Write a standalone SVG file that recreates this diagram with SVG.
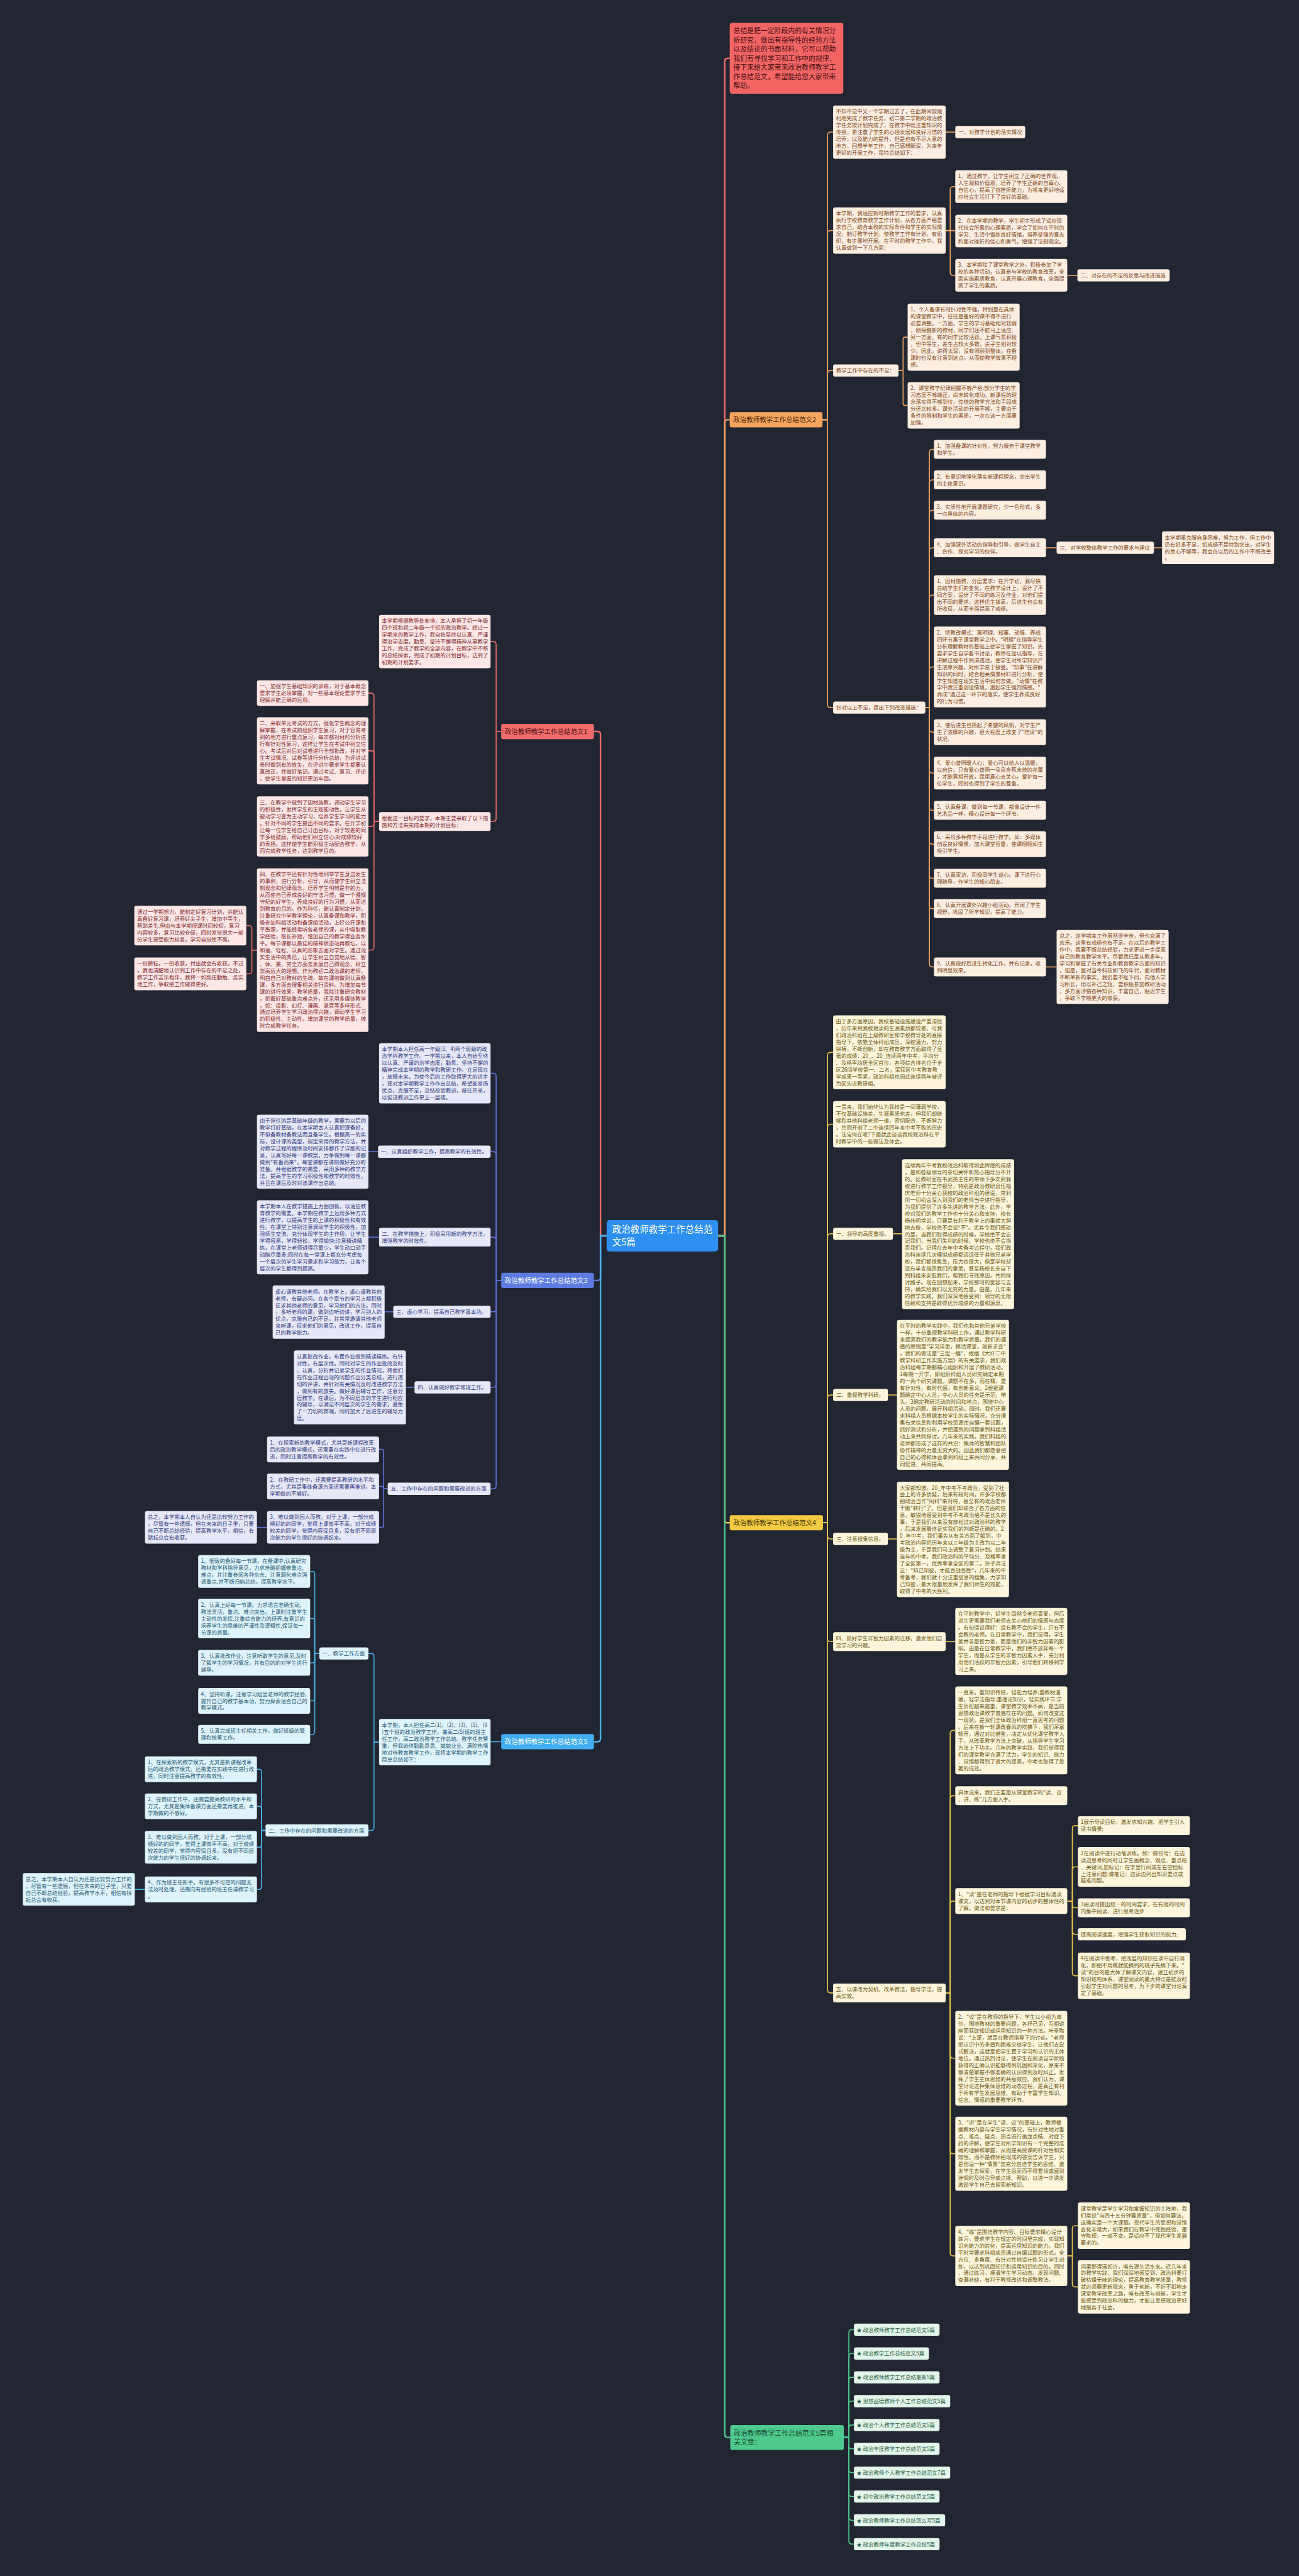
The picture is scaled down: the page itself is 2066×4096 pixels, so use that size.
<svg xmlns="http://www.w3.org/2000/svg" width="2066" height="4096" viewBox="0 0 2066 4096">
<style>
text{font-family:"Noto Sans CJK SC","Noto Sans",sans-serif;font-size:10.5px}
.c1>rect{fill:#fde6e6}.c1>text{fill:#80292a}
.c2>rect{fill:#fdeee2}.c2>text{fill:#7c4416}
.c3>rect{fill:#e6e8f8}.c3>text{fill:#2f387d}
.c4>rect{fill:#fdf6dc}.c4>text{fill:#6a5513}
.c5>rect{fill:#def3fb}.c5>text{fill:#1e5674}
.c6>rect{fill:#e3f6eb}.c6>text{fill:#1f5a3b}
.k>text{font-size:13px}
.k1>rect{fill:#f26a6a}.k1>text{fill:#4a1212}
.k2>rect{fill:#f5a55e}.k2>text{fill:#4d2508}
.k3>rect{fill:#5d7be0}.k3>text{fill:#ffffff}
.k4>rect{fill:#f4ca42}.k4>text{fill:#4a3a05}
.k5>rect{fill:#40aef0}.k5>text{fill:#ffffff}
.k6>rect{fill:#4fca8f}.k6>text{fill:#1b4a31}
#links path{fill:none;stroke-width:2}
.l1{stroke:#f06b6b}.l2{stroke:#f2a561}.l3{stroke:#5d73dc}.l4{stroke:#ebc64c}.l5{stroke:#49b3e6}.l6{stroke:#4ec98e}
#links path.m{stroke-width:3}
</style>
<rect x="0" y="0" width="2066" height="4096" fill="#222632"/>
<g transform="scale(0.806)">
<g id="links">
<path class="l1 m" d="M1417 2438H1430V121Q1430 115 1436 115H1440"/>
<path class="l2 m" d="M1417 2438H1430V834Q1430 828 1436 828H1440"/>
<path class="l4 m" d="M1417 2438H1430V2998Q1430 3004 1436 3004H1440"/>
<path class="l6 m" d="M1417 2438H1430V4802.5Q1430 4808.5 1436 4808.5H1441"/>
<path class="l1 m" d="M1197 2438H1185V1449Q1185 1443 1179 1443H1172"/>
<path class="l3 m" d="M1197 2438H1185V2520Q1185 2526 1179 2526H1172"/>
<path class="l5 m" d="M1197 2438H1185V3430Q1185 3436 1179 3436H1172"/>
<path class="l2" d="M1623 828H1633V266.6Q1633 260.6 1639 260.6H1644"/>
<path class="l2" d="M1623 828H1633V460.8Q1633 454.8 1639 454.8H1644"/>
<path class="l2" d="M1623 828H1633V737Q1633 731 1639 731H1644"/>
<path class="l2" d="M1623 828H1633V1390Q1633 1396 1639 1396H1644"/>
<path class="l2" d="M1866 260.6H1885"/>
<path class="l2" d="M1866 454.8H1875V374.2Q1875 368.2 1881 368.2H1885"/>
<path class="l2" d="M1866 455H1885"/>
<path class="l2" d="M1866 454.8H1875V537.2Q1875 543.2 1881 543.2H1885"/>
<path class="l2" d="M2106 543.2H2126"/>
<path class="l2" d="M1773 731H1782V669.2Q1782 665.2 1786 665.2H1791"/>
<path class="l2" d="M1773 731H1782V795.8Q1782 799.8 1786 799.8H1791"/>
<path class="l2" d="M1826 1396H1834V892.6Q1834 886.6 1840 886.6H1843"/>
<path class="l2" d="M1826 1396H1834V952.6Q1834 946.6 1840 946.6H1843"/>
<path class="l2" d="M1826 1396H1834V1012.6Q1834 1006.6 1840 1006.6H1843"/>
<path class="l2" d="M1826 1396H1834V1086.6Q1834 1080.6 1840 1080.6H1843"/>
<path class="l2" d="M1826 1396H1834V1180Q1834 1174 1840 1174H1843"/>
<path class="l2" d="M1826 1396H1834V1321.8Q1834 1315.8 1840 1315.8H1843"/>
<path class="l2" d="M1826 1396H1834V1438.4Q1834 1444.4 1840 1444.4H1843"/>
<path class="l2" d="M1826 1396H1834V1519.2Q1834 1525.2 1840 1525.2H1843"/>
<path class="l2" d="M1826 1396H1834V1592.6Q1834 1598.6 1840 1598.6H1843"/>
<path class="l2" d="M1826 1396H1834V1659.4Q1834 1665.4 1840 1665.4H1843"/>
<path class="l2" d="M1826 1396H1834V1726.6Q1834 1732.6 1840 1732.6H1843"/>
<path class="l2" d="M1826 1396H1834V1786.6Q1834 1792.6 1840 1792.6H1843"/>
<path class="l2" d="M1826 1396H1834V1901.6Q1834 1907.6 1840 1907.6H1843"/>
<path class="l2" d="M2064 1080.6H2085"/>
<path class="l2" d="M2277 1080.6H2293"/>
<path class="l2" d="M2064 1907.6H2085"/>
<path class="l4" d="M1624 3004H1633V2082Q1633 2076 1639 2076H1644"/>
<path class="l4" d="M1624 3004H1633V2223.8Q1633 2217.8 1639 2217.8H1644"/>
<path class="l4" d="M1624 3004H1633V2440Q1633 2434 1639 2434H1644"/>
<path class="l4" d="M1624 3004H1633V2758Q1633 2752 1639 2752H1644"/>
<path class="l4" d="M1624 3004H1633V3030Q1633 3036 1639 3036H1644"/>
<path class="l4" d="M1624 3004H1633V3232.6Q1633 3238.6 1639 3238.6H1644"/>
<path class="l4" d="M1624 3004H1633V3925.6Q1633 3931.6 1639 3931.6H1644"/>
<path class="l4" d="M1762 2434H1780"/>
<path class="l4" d="M1752 2752H1770"/>
<path class="l4" d="M1752 3036H1770"/>
<path class="l4" d="M1866 3238.6H1885"/>
<path class="l4" d="M1866 3931.6H1875V3419.6Q1875 3413.6 1881 3413.6H1885"/>
<path class="l4" d="M1866 3931.6H1875V3548.6Q1875 3542.6 1881 3542.6H1885"/>
<path class="l4" d="M1866 3931.6H1875V3756.4Q1875 3750.4 1881 3750.4H1885"/>
<path class="l4" d="M1866 3931.6H1875V4054.4Q1875 4060.4 1881 4060.4H1885"/>
<path class="l4" d="M1866 3931.6H1875V4243Q1875 4249 1881 4249H1885"/>
<path class="l4" d="M1866 3931.6H1875V4444.4Q1875 4450.4 1881 4450.4H1885"/>
<path class="l4" d="M2106 3750.4H2116V3607.6Q2116 3601.6 2122 3601.6H2127"/>
<path class="l4" d="M2106 3750.4H2116V3689Q2116 3683 2122 3683H2127"/>
<path class="l4" d="M2106 3750.4H2116V3757.6Q2116 3763.6 2122 3763.6H2127"/>
<path class="l4" d="M2106 3750.4H2116V3810Q2116 3816 2122 3816H2127"/>
<path class="l4" d="M2106 3750.4H2116V3891.8Q2116 3897.8 2122 3897.8H2127"/>
<path class="l4" d="M2106 4450.4H2116V4396.8Q2116 4390.8 2122 4390.8H2127"/>
<path class="l4" d="M2106 4450.4H2116V4505.6Q2116 4511.6 2122 4511.6H2127"/>
<path class="l6" d="M1665 4808.5H1675V4602Q1675 4596 1681 4596H1685"/>
<path class="l6" d="M1665 4808.5H1675V4649Q1675 4643 1681 4643H1685"/>
<path class="l6" d="M1665 4808.5H1675V4696Q1675 4690 1681 4690H1685"/>
<path class="l6" d="M1665 4808.5H1675V4743Q1675 4737 1681 4737H1685"/>
<path class="l6" d="M1665 4808.5H1675V4790Q1675 4784 1681 4784H1685"/>
<path class="l6" d="M1665 4808.5H1675V4825Q1675 4831 1681 4831H1685"/>
<path class="l6" d="M1665 4808.5H1675V4872Q1675 4878 1681 4878H1685"/>
<path class="l6" d="M1665 4808.5H1675V4919Q1675 4925 1681 4925H1685"/>
<path class="l6" d="M1665 4808.5H1675V4966Q1675 4972 1681 4972H1685"/>
<path class="l6" d="M1665 4808.5H1675V5013Q1675 5019 1681 5019H1685"/>
<path class="l1" d="M989 1443H979V1271.6Q979 1265.6 973 1265.6H968"/>
<path class="l1" d="M989 1443H979V1614.6Q979 1620.6 973 1620.6H968"/>
<path class="l1" d="M748 1620.6H738V1373.4Q738 1367.4 732 1367.4H727"/>
<path class="l1" d="M748 1620.6H738V1487.2Q738 1481.2 732 1481.2H727"/>
<path class="l1" d="M748 1620.6H738V1624.4Q738 1630.4 732 1630.4H727"/>
<path class="l1" d="M748 1620.6H738V1868.4Q738 1874.4 732 1874.4H727"/>
<path class="l1" d="M507 1874.4H497V1832Q497 1826 491 1826H486"/>
<path class="l1" d="M507 1874.4H497V1915.2Q497 1921.2 491 1921.2H486"/>
<path class="l3" d="M989 2526H979V2123.4Q979 2117.4 973 2117.4H968"/>
<path class="l3" d="M989 2526H979V2278Q979 2272 973 2272H968"/>
<path class="l3" d="M989 2526H979V2446.6Q979 2440.6 973 2440.6H968"/>
<path class="l3" d="M989 2526H979V2582Q979 2588 973 2588H968"/>
<path class="l3" d="M989 2526H979V2731Q979 2737 973 2737H968"/>
<path class="l3" d="M989 2526H979V2931Q979 2937 973 2937H968"/>
<path class="l3" d="M746 2272H727"/>
<path class="l3" d="M748 2440.6H727"/>
<path class="l3" d="M776 2588H759"/>
<path class="l3" d="M818 2737H801"/>
<path class="l3" d="M765 2937H757V2863.4Q757 2859.4 753 2859.4H748"/>
<path class="l3" d="M765 2937H757V2936.4Q757 2932.4 753 2932.4H748"/>
<path class="l3" d="M765 2937H757V3009.2Q757 3013.2 753 3013.2H748"/>
<path class="l3" d="M527 3013.2H507"/>
<path class="l5" d="M989 3436H968"/>
<path class="l5" d="M748 3436.8H738V3268Q738 3262 732 3262H727"/>
<path class="l5" d="M748 3436.8H738V3605Q738 3611 732 3611H727"/>
<path class="l5" d="M630 3262H621V3106.2Q621 3100.2 617 3100.2H612"/>
<path class="l5" d="M630 3262H621V3199Q621 3193 617 3193H612"/>
<path class="l5" d="M630 3262H621V3276.4Q621 3280.4 617 3280.4H612"/>
<path class="l5" d="M630 3262H621V3349.4Q621 3355.4 617 3355.4H612"/>
<path class="l5" d="M630 3262H621V3415.6Q621 3421.6 617 3421.6H612"/>
<path class="l5" d="M524 3611H516V3496.4Q516 3490.4 512 3490.4H507"/>
<path class="l5" d="M524 3611H516V3569.4Q516 3563.4 512 3563.4H507"/>
<path class="l5" d="M524 3611H516V3638.2Q516 3644.2 512 3644.2H507"/>
<path class="l5" d="M524 3611H516V3721.4Q516 3727.4 512 3727.4H507"/>
<path class="l5" d="M286 3727.4H266"/>
</g>

<g id="center"><rect x="1197" y="2407" width="220" height="62" rx="6" fill="#2d8ff0"/><text x="1208" y="2432" fill="#ffffff" style="font-size:18px"><tspan x="1208">政治教师教学工作总结范</tspan><tspan x="1208" dy="24">文5篇</tspan></text></g>

<g id="intro"><rect x="1440" y="45" width="224" height="140" rx="5" fill="#f36565"/><text x="1447" y="66" fill="#4a1010" style="font-size:13.5px"><tspan x="1447">总结是把一定阶段内的有关情况分</tspan><tspan x="1447" dy="18">析研究，做出有指导性的经验方法</tspan><tspan x="1447" dy="18">以及结论的书面材料，它可以帮助</tspan><tspan x="1447" dy="18">我们有寻找学习和工作中的规律，</tspan><tspan x="1447" dy="18">接下来给大家带来政治教师教学工</tspan><tspan x="1447" dy="18">作总结范文，希望能给您大家带来</tspan><tspan x="1447" dy="18">帮助。</tspan></text></g>

<g id="b1" class="k k1"><rect x="989" y="1428" width="183" height="30" rx="4"/><text x="996" y="1448">政治教师教学工作总结范文1</text></g>
<g id="b2" class="k k2"><rect x="1440" y="813" width="183" height="30" rx="4"/><text x="1447" y="833">政治教师教学工作总结范文2</text></g>
<g id="b3" class="k k3"><rect x="989" y="2511" width="183" height="30" rx="4"/><text x="996" y="2531">政治教师教学工作总结范文3</text></g>
<g id="b4" class="k k4"><rect x="1440" y="2989" width="184" height="30" rx="4"/><text x="1447" y="3009">政治教师教学工作总结范文4</text></g>
<g id="b5" class="k k5"><rect x="989" y="3421" width="183" height="30" rx="4"/><text x="996" y="3441">政治教师教学工作总结范文5</text></g>
<g id="rel" class="k k6"><rect x="1441" y="4784" width="224" height="49" rx="4"/><text x="1448" y="4804.6" style="font-size:13.5px"><tspan x="1448">政治教师教学工作总结范文5篇相</tspan><tspan x="1448" dy="18">关文章：</tspan></text></g>

<g id="n2a" class="c2"><rect x="1644" y="208" width="222" height="105.2" rx="4"/><text x="1649.5" y="223.6"><tspan x="1649.5">不知不觉中又一个学期过去了，在此期间较顺</tspan><tspan x="1649.5" dy="13.6">利地完成了教学任务，初二第二学期的政治教</tspan><tspan x="1649.5" dy="13.6">学任务按计划完成了，在教学中既注重知识的</tspan><tspan x="1649.5" dy="13.6">传授，更注重了学生的心理发展和良好习惯的</tspan><tspan x="1649.5" dy="13.6">培养，以及能力的提升，但是也有不尽人意的</tspan><tspan x="1649.5" dy="13.6">地方，回想半年工作，自己感想颇深，为来年</tspan><tspan x="1649.5" dy="13.6">更好的开展工作，我特总结如下：</tspan></text></g>
<g id="n2a1" class="c2"><rect x="1885" y="248.6" width="138" height="24" rx="4"/><text x="1891" y="264.6">一、对教学计划的落实情况</text></g>
<g id="n2b" class="c2"><rect x="1644" y="409" width="222" height="91.6" rx="4"/><text x="1649.5" y="424.6"><tspan x="1649.5">本学期，我适应新时期教学工作的要求，认真</tspan><tspan x="1649.5" dy="13.6">执行学校教育教学工作计划，从各方面严格要</tspan><tspan x="1649.5" dy="13.6">求自己，结合本校的实际条件和学生的实际情</tspan><tspan x="1649.5" dy="13.6">况，制订教学计划，使教学工作有计划，有组</tspan><tspan x="1649.5" dy="13.6">织，有步骤地开展。在平时的教学工作中，我</tspan><tspan x="1649.5" dy="13.6">认真做到一下几方面：</tspan></text></g>
<g id="n2b1" class="c2"><rect x="1885" y="336" width="221" height="64.4" rx="4"/><text x="1890.5" y="351.6"><tspan x="1890.5">1、通过教学，让学生树立了正确的世界观、</tspan><tspan x="1890.5" dy="13.6">人生观和价值观，培养了学生正确的自尊心、</tspan><tspan x="1890.5" dy="13.6">自信心，提高了抗挫折能力，为将来更好地适</tspan><tspan x="1890.5" dy="13.6">应社会生活打下了良好的基础。</tspan></text></g>
<g id="n2b2" class="c2"><rect x="1885" y="423.6" width="221" height="64.4" rx="4"/><text x="1890.5" y="439.2"><tspan x="1890.5">2、在本学期的教学，学生初步形成了适应现</tspan><tspan x="1890.5" dy="13.6">代社会所需的心理素质，学会了如何在平时的</tspan><tspan x="1890.5" dy="13.6">学习、生活中锻炼良好情绪，培养坚强的意志</tspan><tspan x="1890.5" dy="13.6">和面对挫折的信心和勇气，增强了法制观念。</tspan></text></g>
<g id="n2b3" class="c2"><rect x="1885" y="511" width="221" height="64.4" rx="4"/><text x="1890.5" y="526.6"><tspan x="1890.5">3、本学期除了课堂教学之外，积极参加了学</tspan><tspan x="1890.5" dy="13.6">校的各种活动，认真参与学校的教育改革，全</tspan><tspan x="1890.5" dy="13.6">面实施素质教育，认真开展心理教育，全面提</tspan><tspan x="1890.5" dy="13.6">高了学生的素质。</tspan></text></g>
<g id="n2b3a" class="c2"><rect x="2126" y="531.2" width="182" height="24" rx="4"/><text x="2132" y="547.2">二、对存在的不足的反思与改进措施</text></g>
<g id="n2c" class="c2"><rect x="1644" y="719" width="129" height="24" rx="4"/><text x="1650" y="735">教学工作中存在的不足：</text></g>
<g id="n2c1" class="c2"><rect x="1791" y="599" width="221" height="132.4" rx="4"/><text x="1796.5" y="614.6"><tspan x="1796.5">1、个人备课有时针对性不强，特别是在具体</tspan><tspan x="1796.5" dy="13.6">的课堂教学中，往往是备好的课不得不进行</tspan><tspan x="1796.5" dy="13.6">必要调整。一方面，学生的学习基础相对较弱</tspan><tspan x="1796.5" dy="13.6">，刚接触新的教材，同学们还不能马上适应;</tspan><tspan x="1796.5" dy="13.6">另一方面，有的同学比较活跃，上课气氛积极</tspan><tspan x="1796.5" dy="13.6">，但中等生，差生占较大多数，尖子生相对较</tspan><tspan x="1796.5" dy="13.6">少。因此，讲得太深，没有照顾到整体，在备</tspan><tspan x="1796.5" dy="13.6">课时也没有注意到这点。从而使教学效果不理</tspan><tspan x="1796.5" dy="13.6">想。</tspan></text></g>
<g id="n2c2" class="c2"><rect x="1791" y="754" width="221" height="91.6" rx="4"/><text x="1796.5" y="769.6"><tspan x="1796.5">2、课堂教学纪律把握不够严格;部分学生的学</tspan><tspan x="1796.5" dy="13.6">习态度不够端正，尚未转化成功。新课程的理</tspan><tspan x="1796.5" dy="13.6">念落实得不够到位，传统的教学方法和手段成</tspan><tspan x="1796.5" dy="13.6">分还比较多。课外活动的开展不够，主要由于</tspan><tspan x="1796.5" dy="13.6">条件的限制和学生的素质，一次在这一方面要</tspan><tspan x="1796.5" dy="13.6">加强。</tspan></text></g>
<g id="n2d" class="c2"><rect x="1644" y="1384" width="182" height="24" rx="4"/><text x="1650" y="1400">针对以上不足，提出下列改进措施：</text></g>
<g id="n2d1" class="c2"><rect x="1843" y="868" width="221" height="37.2" rx="4"/><text x="1848.5" y="883.6"><tspan x="1848.5">1、加强备课的针对性，努力服务于课堂教学</tspan><tspan x="1848.5" dy="13.6">和学生。</tspan></text></g>
<g id="n2d2" class="c2"><rect x="1843" y="928" width="221" height="37.2" rx="4"/><text x="1848.5" y="943.6"><tspan x="1848.5">2、有意识地强化落实新课程理念，突出学生</tspan><tspan x="1848.5" dy="13.6">的主体意识。</tspan></text></g>
<g id="n2d3" class="c2"><rect x="1843" y="988" width="221" height="37.2" rx="4"/><text x="1848.5" y="1003.6"><tspan x="1848.5">3、实质性地开展课题研究，少一色形式，多</tspan><tspan x="1848.5" dy="13.6">一点具体的内容。</tspan></text></g>
<g id="n2d4" class="c2"><rect x="1843" y="1062" width="221" height="37.2" rx="4"/><text x="1848.5" y="1077.6"><tspan x="1848.5">4、加强课外活动的指导和引导，做学生自主</tspan><tspan x="1848.5" dy="13.6">、合作、探究学习的伙伴。</tspan></text></g>
<g id="n2d5" class="c2"><rect x="1843" y="1135" width="221" height="78" rx="4"/><text x="1848.5" y="1150.6"><tspan x="1848.5">1、因材施教，分层要求：在开学初，我尽快</tspan><tspan x="1848.5" dy="13.6">总结学生们的变化，在教学设计上，设计了不</tspan><tspan x="1848.5" dy="13.6">同方案，设计了不同的练习及作业，对他们提</tspan><tspan x="1848.5" dy="13.6">出不同的要求，这样优生拔高，后进生也会有</tspan><tspan x="1848.5" dy="13.6">所收获，从而全面提高了成绩。</tspan></text></g>
<g id="n2d6" class="c2"><rect x="1843" y="1236" width="221" height="159.6" rx="4"/><text x="1848.5" y="1251.6"><tspan x="1848.5">2、把教改模式：寓明理、知事、动情、养成</tspan><tspan x="1848.5" dy="13.6">四环节寓于课堂教学之中。"明理"在指导学生</tspan><tspan x="1848.5" dy="13.6">分析理解教材的基础上使学生掌握了知识。先</tspan><tspan x="1848.5" dy="13.6">要求学生自学看书讨论，教师在加以指导，在</tspan><tspan x="1848.5" dy="13.6">讲解过程中作到清透活，使学生对所学知识产</tspan><tspan x="1848.5" dy="13.6">生浓厚兴趣，对所学易于接受。"知事"在讲解</tspan><tspan x="1848.5" dy="13.6">知识的同时，结合相关情景材料进行分析，使</tspan><tspan x="1848.5" dy="13.6">学生知道在现实生活中如何去做。"动情"在教</tspan><tspan x="1848.5" dy="13.6">学中我注重创设情境，激起学生强烈情感。"</tspan><tspan x="1848.5" dy="13.6">养成"通过这一环节的落实，使学生养成良好</tspan><tspan x="1848.5" dy="13.6">的行为习惯。</tspan></text></g>
<g id="n2d7" class="c2"><rect x="1843" y="1419" width="221" height="50.8" rx="4"/><text x="1848.5" y="1434.6"><tspan x="1848.5">3、使后进生也扬起了希望的风帆，对学生产</tspan><tspan x="1848.5" dy="13.6">生了浓厚的兴趣，很大程度上改变了"陪读"的</tspan><tspan x="1848.5" dy="13.6">状况。</tspan></text></g>
<g id="n2d8" class="c2"><rect x="1843" y="1493" width="221" height="64.4" rx="4"/><text x="1848.5" y="1508.6"><tspan x="1848.5">4、爱心普照暖人心：爱心可以给人以温暖，</tspan><tspan x="1848.5" dy="13.6">以自信，只有爱心普照一朵朵含苞未放的花蕾</tspan><tspan x="1848.5" dy="13.6">，才能竟相开放，我用真心去关心，爱护每一</tspan><tspan x="1848.5" dy="13.6">位学生，同时也得到了学生的尊重。</tspan></text></g>
<g id="n2d9" class="c2"><rect x="1843" y="1580" width="221" height="37.2" rx="4"/><text x="1848.5" y="1595.6"><tspan x="1848.5">5、认真备课，做到每一节课，都像设计一件</tspan><tspan x="1848.5" dy="13.6">艺术品一样，精心设计每一个环节。</tspan></text></g>
<g id="n2d10" class="c2"><rect x="1843" y="1640" width="221" height="50.8" rx="4"/><text x="1848.5" y="1655.6"><tspan x="1848.5">6、采用多种教学手段进行教学。如：多媒体</tspan><tspan x="1848.5" dy="13.6">创设良好情景，加大课堂容量，使课栩栩如生</tspan><tspan x="1848.5" dy="13.6">吸引学生。</tspan></text></g>
<g id="n2d11" class="c2"><rect x="1843" y="1714" width="221" height="37.2" rx="4"/><text x="1848.5" y="1729.6"><tspan x="1848.5">7、认真家访，积极同学生谈心。课下进行心</tspan><tspan x="1848.5" dy="13.6">理疏导，作学生的知心朋友。</tspan></text></g>
<g id="n2d12" class="c2"><rect x="1843" y="1774" width="221" height="37.2" rx="4"/><text x="1848.5" y="1789.6"><tspan x="1848.5">8、认真开展课外兴趣小组活动。开阔了学生</tspan><tspan x="1848.5" dy="13.6">视野，巩固了所学知识，提高了能力。</tspan></text></g>
<g id="n2d13" class="c2"><rect x="1843" y="1889" width="221" height="37.2" rx="4"/><text x="1848.5" y="1904.6"><tspan x="1848.5">9、认真做好后进生转化工作，并有记录，收</tspan><tspan x="1848.5" dy="13.6">到明显效果。</tspan></text></g>
<g id="n2d4a" class="c2"><rect x="2085" y="1068.6" width="192" height="24" rx="4"/><text x="2091" y="1084.6">三、对学校整体教学工作的要求与建议</text></g>
<g id="n2d4b" class="c2"><rect x="2293" y="1048.4" width="221" height="64.4" rx="4"/><text x="2298.5" y="1064"><tspan x="2298.5">本学期虽克服自身困难，努力工作，但工作中</tspan><tspan x="2298.5" dy="13.6">仍有好多不足，如成绩不是特别突出，对学生</tspan><tspan x="2298.5" dy="13.6">的关心不够等，我会在以后的工作中不断改善</tspan><tspan x="2298.5" dy="13.6">。</tspan></text></g>
<g id="n2d13a" class="c2"><rect x="2085" y="1834.6" width="221" height="146" rx="4"/><text x="2090.5" y="1850.2"><tspan x="2090.5">总之，这学期来工作虽然很辛苦，但也充满了</tspan><tspan x="2090.5" dy="13.6">欢乐。这里有成绩也有不足。在以后的教学工</tspan><tspan x="2090.5" dy="13.6">作中，我要不断总结经验，力求更进一步提高</tspan><tspan x="2090.5" dy="13.6">自己的教育教学水平。尽管我已是从教多年，</tspan><tspan x="2090.5" dy="13.6">学习和掌握了有关专业和教育教学方面的知识</tspan><tspan x="2090.5" dy="13.6">，但是，面对当今科技如飞的年代，面对教材</tspan><tspan x="2090.5" dy="13.6">不断革新的事实，我仍要不耻下问，向他人学</tspan><tspan x="2090.5" dy="13.6">习所长，用以补己之短，要积极参加教研活动</tspan><tspan x="2090.5" dy="13.6">，多方面涉猎各种知识，丰富自己，贴近学生</tspan><tspan x="2090.5" dy="13.6">，争取下学期更大的收获。</tspan></text></g>

<g id="n4a" class="c4"><rect x="1644" y="2003" width="222" height="146" rx="4"/><text x="1649.5" y="2018.6"><tspan x="1649.5">由于多方面原因，我校基础设施建设严重滞后</tspan><tspan x="1649.5" dy="13.6">，历年来到我校就读的生源素质都较差，可我</tspan><tspan x="1649.5" dy="13.6">们政治科组在上级教研室和学校教导处的直接</tspan><tspan x="1649.5" dy="13.6">指导下，依靠全体科组成员，深挖潜力，努力</tspan><tspan x="1649.5" dy="13.6">拼搏，不断创新，却在教育教学方面取得了显</tspan><tspan x="1649.5" dy="13.6">著的成绩：20_、20_连续两年中考，平均分</tspan><tspan x="1649.5" dy="13.6">、及格率均居全区首位，各项综合排名位于全</tspan><tspan x="1649.5" dy="13.6">区26间学校第一、二名，荣获区中考教育教</tspan><tspan x="1649.5" dy="13.6">学成果一等奖，政治科组也因此连续两年被评</tspan><tspan x="1649.5" dy="13.6">为区先进教研组。</tspan></text></g>
<g id="n4b" class="c4"><rect x="1644" y="2172" width="222" height="91.6" rx="4"/><text x="1649.5" y="2187.6"><tspan x="1649.5">一贯来，我们始终认为我校是一间薄弱学校，</tspan><tspan x="1649.5" dy="13.6">不仅基础设施差，生源素质也差，但我们却能</tspan><tspan x="1649.5" dy="13.6">够和其他科组老师一道，密切配合，不断努力</tspan><tspan x="1649.5" dy="13.6">，共同开创了二中连续四年来中考不败的历史</tspan><tspan x="1649.5" dy="13.6">。法宝何在呢?下面就此谈谈我校政治科在平</tspan><tspan x="1649.5" dy="13.6">时教学中的一些做法及体会。</tspan></text></g>
<g id="n4c" class="c4"><rect x="1644" y="2422" width="118" height="24" rx="4"/><text x="1650" y="2438">一、领导的高度重视。</text></g>
<g id="n4c1" class="c4"><rect x="1780" y="2287" width="221" height="295.6" rx="4"/><text x="1785.5" y="2302.6"><tspan x="1785.5">连续两年中考我校政治科取得如此辉煌的成绩</tspan><tspan x="1785.5" dy="13.6">，是和各级领导的亲切关怀和热心指导分不开</tspan><tspan x="1785.5" dy="13.6">的。区教研室在韦武扬主任的带领下多次到我</tspan><tspan x="1785.5" dy="13.6">校进行教学工作视导，特别是政治教研员伍福</tspan><tspan x="1785.5" dy="13.6">庆老师十分关心我校的政治科组的建设，常利</tspan><tspan x="1785.5" dy="13.6">用一切机会深入到我们的老师当中进行指导，</tspan><tspan x="1785.5" dy="13.6">为我们提供了许多先进的教学方法。此外，学</tspan><tspan x="1785.5" dy="13.6">校对我们的教学工作也十分关心和支持，校长</tspan><tspan x="1785.5" dy="13.6">杨伟明常说，只要是有利于教学上的事就大胆</tspan><tspan x="1785.5" dy="13.6">地去做，学校绝不会说"不"。尤其令我们感动</tspan><tspan x="1785.5" dy="13.6">的是，当我们取得成绩的时候，学校绝不会忘</tspan><tspan x="1785.5" dy="13.6">记我们，当我们失利的时候，学校也绝不会指</tspan><tspan x="1785.5" dy="13.6">责我们。记得在去年中考备考过程中，我们政</tspan><tspan x="1785.5" dy="13.6">治科连续几次模拟成绩都远远低于其他兄弟学</tspan><tspan x="1785.5" dy="13.6">校，我们都很焦急，压力也很大，但是学校却</tspan><tspan x="1785.5" dy="13.6">没有半言指责我们的意思，甚至杨校长亲自下</tspan><tspan x="1785.5" dy="13.6">到科组来安慰我们，帮我们寻找原因，共同探</tspan><tspan x="1785.5" dy="13.6">讨路子。现在回想起来，学校那时的宽容与支</tspan><tspan x="1785.5" dy="13.6">持，确实给我们以无穷的力量。由是，几年来</tspan><tspan x="1785.5" dy="13.6">的教学实践，我们深深地感受到：领导的无限</tspan><tspan x="1785.5" dy="13.6">信赖和支持是取得优异成绩的力量和源泉。</tspan></text></g>
<g id="n4d" class="c4"><rect x="1644" y="2740" width="108" height="24" rx="4"/><text x="1650" y="2756">二、重视教学科研。</text></g>
<g id="n4d1" class="c4"><rect x="1770" y="2604" width="221" height="295.6" rx="4"/><text x="1775.5" y="2619.6"><tspan x="1775.5">在平时的教学实践中，我们也和其他兄弟学校</tspan><tspan x="1775.5" dy="13.6">一样，十分重视教学科研工作，通过教学科研</tspan><tspan x="1775.5" dy="13.6">来提高我们的教学能力和教学质量。我们的遵</tspan><tspan x="1775.5" dy="13.6">循的原则是"学习洋思，搞活课堂，创新求变"</tspan><tspan x="1775.5" dy="13.6">，我们的做法是"三定一编"，根据《大圩二中</tspan><tspan x="1775.5" dy="13.6">教学科研工作实施方案》的有关要求，我们政</tspan><tspan x="1775.5" dy="13.6">治科组每学期都精心组织和开展了教研活动。</tspan><tspan x="1775.5" dy="13.6">1每期一开学，即组织科组人员研究确定本期</tspan><tspan x="1775.5" dy="13.6">的一两个研究课题。课题不在多，而在精，要</tspan><tspan x="1775.5" dy="13.6">有针对性，有时代感，有创新意义。2根据课</tspan><tspan x="1775.5" dy="13.6">题确定中心人员，中心人员的任务是示范、带</tspan><tspan x="1775.5" dy="13.6">头。3确定教研活动的时间和地点，围绕中心</tspan><tspan x="1775.5" dy="13.6">人员的问题，展开科组活动。同时，我们还要</tspan><tspan x="1775.5" dy="13.6">求科组人员根据本校学生的实际情况，充分搜</tspan><tspan x="1775.5" dy="13.6">集有关信息和利用学校资源库自编一套试题，</tspan><tspan x="1775.5" dy="13.6">抓好测试和分析，并把遇到的问题拿到科组活</tspan><tspan x="1775.5" dy="13.6">动上来共同探讨。几年来的实践，我们科组的</tspan><tspan x="1775.5" dy="13.6">老师都形成了这样的共识：集体的智慧和团队</tspan><tspan x="1775.5" dy="13.6">协作精神的力量无穷大的。因此我们都愿意把</tspan><tspan x="1775.5" dy="13.6">自己的心得和体会拿到科组上来共同分享、共</tspan><tspan x="1775.5" dy="13.6">同促进、共同提高。</tspan></text></g>
<g id="n4e" class="c4"><rect x="1644" y="3024" width="108" height="24" rx="4"/><text x="1650" y="3040">三、注意搜集信息。</text></g>
<g id="n4e1" class="c4"><rect x="1770" y="2923" width="221" height="227.6" rx="4"/><text x="1775.5" y="2938.6"><tspan x="1775.5">大家都知道，20_年中考不考政治，受到了社</tspan><tspan x="1775.5" dy="13.6">会上的许多质疑，后来有段时间，许多学校都</tspan><tspan x="1775.5" dy="13.6">把政治当作"闲科"来对待，甚至有的政治老师</tspan><tspan x="1775.5" dy="13.6">干脆"转行"了。但是我们却综合了各方面的信</tspan><tspan x="1775.5" dy="13.6">息，敏锐地感受到中考不考政治绝不是长久的</tspan><tspan x="1775.5" dy="13.6">事，于是我们从来没有放松过对政治科的教学</tspan><tspan x="1775.5" dy="13.6">，后来发展最终证实我们的判断是正确的。2</tspan><tspan x="1775.5" dy="13.6">0_年中考，我们事先从有关方面了解到，中</tspan><tspan x="1775.5" dy="13.6">考政治内容把历年来以三年级为主改为以二年</tspan><tspan x="1775.5" dy="13.6">级为主，于是我们马上调整了复习计划。结果</tspan><tspan x="1775.5" dy="13.6">当年的中考，我们政治科的平均分、及格率拿</tspan><tspan x="1775.5" dy="13.6">了全区第一，优秀率拿全区的第二。孙子兵法</tspan><tspan x="1775.5" dy="13.6">云："知己知彼，才能百战百胜"，几年来的中</tspan><tspan x="1775.5" dy="13.6">考备考，我们就十分注重信息的搜集，力求知</tspan><tspan x="1775.5" dy="13.6">己知彼，最大限量地发挥了我们师生的效能，</tspan><tspan x="1775.5" dy="13.6">取得了中考的大胜利。</tspan></text></g>
<g id="n4f" class="c4"><rect x="1644" y="3220" width="222" height="37.2" rx="4"/><text x="1649.5" y="3235.6"><tspan x="1649.5">四、抓好学生非智力因素的迁移，激发他们自</tspan><tspan x="1649.5" dy="13.6">觉学习的兴趣。</tspan></text></g>
<g id="n4f1" class="c4"><rect x="1885" y="3172" width="221" height="132.4" rx="4"/><text x="1890.5" y="3187.6"><tspan x="1890.5">在平时教学中，好学生固然令老师喜爱，但后</tspan><tspan x="1890.5" dy="13.6">进生更需要我们老师去关心他们的情感与态度</tspan><tspan x="1890.5" dy="13.6">。有句话说得好：没有教不会的学生，只有不</tspan><tspan x="1890.5" dy="13.6">会教的老师。在日常教学中，我们觉得，学生</tspan><tspan x="1890.5" dy="13.6">差并非是智力差，而是他们的非智力因素的影</tspan><tspan x="1890.5" dy="13.6">响。由是在日常教学中，我们绝不放弃每一个</tspan><tspan x="1890.5" dy="13.6">学生，而是从学生的非智力因素入手，充分利</tspan><tspan x="1890.5" dy="13.6">用他们活跃的非智力因素，引导他们转移到学</tspan><tspan x="1890.5" dy="13.6">习上来。</tspan></text></g>
<g id="n4g" class="c4"><rect x="1644" y="3913" width="222" height="37.2" rx="4"/><text x="1649.5" y="3928.6"><tspan x="1649.5">五、以课改为契机，改革教法，指导学法，提</tspan><tspan x="1649.5" dy="13.6">高实效。</tspan></text></g>
<g id="n4g1" class="c4"><rect x="1885" y="3327" width="221" height="173.2" rx="4"/><text x="1890.5" y="3342.6"><tspan x="1890.5">一直来，重知识传授，轻能力培养;重教材灌</tspan><tspan x="1890.5" dy="13.6">输，轻学法指导;重理论知识，轻实践环节;学</tspan><tspan x="1890.5" dy="13.6">生负担越来越重，课堂教学效率不高，是当前</tspan><tspan x="1890.5" dy="13.6">思想政治课教学普遍存在的问题。如何改变这</tspan><tspan x="1890.5" dy="13.6">一现状，是我们全体政治科组一直思考的问题</tspan><tspan x="1890.5" dy="13.6">。后来在新一轮课改春风的吹拂下，我们茅塞</tspan><tspan x="1890.5" dy="13.6">顿开，通过对比借鉴，决定从优化课堂教学入</tspan><tspan x="1890.5" dy="13.6">手，从改革教学方法上突破，从指导学生学习</tspan><tspan x="1890.5" dy="13.6">方法上下功夫。几年的教学实践，我们觉得我</tspan><tspan x="1890.5" dy="13.6">们的课堂教学充满了活力，学生的知识、能力</tspan><tspan x="1890.5" dy="13.6">、觉悟都得到了很大的提高，中考也取得了显</tspan><tspan x="1890.5" dy="13.6">著的成效。</tspan></text></g>
<g id="n4g2" class="c4"><rect x="1885" y="3524" width="221" height="37.2" rx="4"/><text x="1890.5" y="3539.6"><tspan x="1890.5">具体说来，我们主要是从课堂教学的"读、议</tspan><tspan x="1890.5" dy="13.6">、讲、练"几方面入手。</tspan></text></g>
<g id="n4g3" class="c4"><rect x="1885" y="3725" width="221" height="50.8" rx="4"/><text x="1890.5" y="3740.6"><tspan x="1890.5">1、"读"是在老师的指导下根据学习目标通读</tspan><tspan x="1890.5" dy="13.6">课文，以达到对本节课内容的初步的整体性的</tspan><tspan x="1890.5" dy="13.6">了解。做法和要求是：</tspan></text></g>
<g id="n4g3a" class="c4"><rect x="2127" y="3583" width="221" height="37.2" rx="4"/><text x="2132.5" y="3598.6"><tspan x="2132.5">1展示导读目标，激发求知兴趣、把学生引入</tspan><tspan x="2132.5" dy="13.6">读书情景;</tspan></text></g>
<g id="n4g3b" class="c4"><rect x="2127" y="3644" width="221" height="78" rx="4"/><text x="2132.5" y="3659.6"><tspan x="2132.5">2在阅读中进行动笔训练。如：做符号：在边</tspan><tspan x="2132.5" dy="13.6">读边思考的同时让学生画概念、观点、重点段</tspan><tspan x="2132.5" dy="13.6">、关键词,加标记：在字里行间或左右空档标</tspan><tspan x="2132.5" dy="13.6">上注意问题;做笔记：边读边列出知识要点或</tspan><tspan x="2132.5" dy="13.6">疑难问题。</tspan></text></g>
<g id="n4g3c" class="c4"><rect x="2127" y="3745" width="221" height="37.2" rx="4"/><text x="2132.5" y="3760.6"><tspan x="2132.5">3阅读时提出统一的时间要求，在有限的时间</tspan><tspan x="2132.5" dy="13.6">内集中阅读、进行思考逐步</tspan></text></g>
<g id="n4g3d" class="c4"><rect x="2127" y="3804" width="213" height="24" rx="4"/><text x="2132.5" y="3820">提高阅读速度，增强学生获取知识的能力;</text></g>
<g id="n4g3e" class="c4"><rect x="2127" y="3852" width="221" height="91.6" rx="4"/><text x="2132.5" y="3867.6"><tspan x="2132.5">4在阅读中思考，把浅层的知识在读中自行消</tspan><tspan x="2132.5" dy="13.6">化，即把不用跳就能摘到的桃子先摘下来。"</tspan><tspan x="2132.5" dy="13.6">读"的目的是大体了解课文内容，建立初步的</tspan><tspan x="2132.5" dy="13.6">知识结构体系，课堂阅读的最大特点是能及时</tspan><tspan x="2132.5" dy="13.6">引起学生对问题的思考，为下步的课堂讨论奠</tspan><tspan x="2132.5" dy="13.6">定了基础。</tspan></text></g>
<g id="n4g4" class="c4"><rect x="1885" y="3967" width="221" height="186.8" rx="4"/><text x="1890.5" y="3982.6"><tspan x="1890.5">2、"议"是在教师的指导下，学生以小组为单</tspan><tspan x="1890.5" dy="13.6">位，围绕教材的重要问题，各抒己见，互相讲</tspan><tspan x="1890.5" dy="13.6">座而获取知识或运用知识的一种方法。叶圣陶</tspan><tspan x="1890.5" dy="13.6">说："上课，就是在教师指导下的讨论。"老师</tspan><tspan x="1890.5" dy="13.6">把认识中的矛盾和困难交给学生，让他们去尝</tspan><tspan x="1890.5" dy="13.6">试解决，这就是把学生置于学习和认识的主体</tspan><tspan x="1890.5" dy="13.6">地位。通过热烈讨论，使学生在阅读自学阶段</tspan><tspan x="1890.5" dy="13.6">获得的正确认识能够得到巩固和深化，原来不</tspan><tspan x="1890.5" dy="13.6">够清楚掌握不够准确的认识得到及时纠正。发</tspan><tspan x="1890.5" dy="13.6">挥了学生主体思维的共振效应。我们认为，课</tspan><tspan x="1890.5" dy="13.6">堂讨论这种集体思维的动态过程，是真正有利</tspan><tspan x="1890.5" dy="13.6">于所有学生发展思维、有助于丰富学生知识、</tspan><tspan x="1890.5" dy="13.6">信念、情感的重要教学环节。</tspan></text></g>
<g id="n4g5" class="c4"><rect x="1885" y="4176" width="221" height="146" rx="4"/><text x="1890.5" y="4191.6"><tspan x="1890.5">3、"讲"是在学生"读、议"的基础上，教师根</tspan><tspan x="1890.5" dy="13.6">据教材内容与学生学习情况，有针对性地对重</tspan><tspan x="1890.5" dy="13.6">点、难点、疑点、热点进行画龙点睛、对症下</tspan><tspan x="1890.5" dy="13.6">药的讲解，使学生对所学知识有一个完整的准</tspan><tspan x="1890.5" dy="13.6">确的理解和掌握，从而提高授课的针对性和实</tspan><tspan x="1890.5" dy="13.6">效性。而不是教师把现成的答案告诉学生，只</tspan><tspan x="1890.5" dy="13.6">是创设一种"情景"去充分启迪学生的思维，激</tspan><tspan x="1890.5" dy="13.6">发学生去探索，在学生思索而不得要领或感到</tspan><tspan x="1890.5" dy="13.6">迷惘时及时引导或点拨、帮助，以进一步诱发</tspan><tspan x="1890.5" dy="13.6">激励学生自己去探索新知识。</tspan></text></g>
<g id="n4g6" class="c4"><rect x="1885" y="4391" width="221" height="118.8" rx="4"/><text x="1890.5" y="4406.6"><tspan x="1890.5">4、"练"是围绕教学内容、目标要求精心设计</tspan><tspan x="1890.5" dy="13.6">练习，要求学生在规定的时间里完成，实现知</tspan><tspan x="1890.5" dy="13.6">识向能力的转化，提高运用知识的能力。我们</tspan><tspan x="1890.5" dy="13.6">平时常要求科组成员通过自编试题的形式，全</tspan><tspan x="1890.5" dy="13.6">方位、多角度、有针对性地设计练习让学生训</tspan><tspan x="1890.5" dy="13.6">练，以达到巩固知识和运用知识的目的。同时</tspan><tspan x="1890.5" dy="13.6">，通过练习，摸清学生学习动态，发现问题、</tspan><tspan x="1890.5" dy="13.6">查漏补缺，有利于教师改进和调整教法。</tspan></text></g>
<g id="n4g6a" class="c4"><rect x="2127" y="4345" width="221" height="91.6" rx="4"/><text x="2132.5" y="4360.6"><tspan x="2132.5">课堂教学是学生学习和掌握知识的主阵地，我</tspan><tspan x="2132.5" dy="13.6">们常说"向四十五分钟要质量"，但如何要法，</tspan><tspan x="2132.5" dy="13.6">这确实是一个大课题。现代学生的思想和觉悟</tspan><tspan x="2132.5" dy="13.6">变化非常大，如果我们在教学中死抱经验，墨</tspan><tspan x="2132.5" dy="13.6">守陈规，一成不变，是适应不了现代学生发展</tspan><tspan x="2132.5" dy="13.6">要求的。</tspan></text></g>
<g id="n4g6b" class="c4"><rect x="2127" y="4459" width="221" height="105.2" rx="4"/><text x="2132.5" y="4474.6"><tspan x="2132.5">问渠那得清如许，唯有源头活水来。近几年来</tspan><tspan x="2132.5" dy="13.6">的教学实践，我们深深地感受到：政治科要打</tspan><tspan x="2132.5" dy="13.6">破枯燥无味的理论，提高教育教学质量，教师</tspan><tspan x="2132.5" dy="13.6">就必须要更新观念，勇于创新，不折不扣地走</tspan><tspan x="2132.5" dy="13.6">课堂教学改革之路，唯有改革与创新，学生才</tspan><tspan x="2132.5" dy="13.6">能感受到政治科的魅力，才能让思想政治更好</tspan><tspan x="2132.5" dy="13.6">地服务于社会。</tspan></text></g>

<g id="r1" class="c6"><rect x="1685" y="4584" width="169" height="24" rx="4"/><text x="1690" y="4600">★ 政治教师教学工作总结范文5篇</text></g>
<g id="r2" class="c6"><rect x="1685" y="4631" width="148" height="24" rx="4"/><text x="1690" y="4647">★ 政治教学工作总结范文5篇</text></g>
<g id="r3" class="c6"><rect x="1685" y="4678" width="169" height="24" rx="4"/><text x="1690" y="4694">★ 政治教师教学工作总结最新5篇</text></g>
<g id="r4" class="c6"><rect x="1685" y="4725" width="190" height="24" rx="4"/><text x="1690" y="4741">★ 思想品德教师个人工作总结范文5篇</text></g>
<g id="r5" class="c6"><rect x="1685" y="4772" width="169" height="24" rx="4"/><text x="1690" y="4788">★ 政治个人教学工作总结范文5篇</text></g>
<g id="r6" class="c6"><rect x="1685" y="4819" width="169" height="24" rx="4"/><text x="1690" y="4835">★ 政治年度教学工作总结范文5篇</text></g>
<g id="r7" class="c6"><rect x="1685" y="4866" width="190" height="24" rx="4"/><text x="1690" y="4882">★ 政治教师个人教学工作总结范文7篇</text></g>
<g id="r8" class="c6"><rect x="1685" y="4913" width="169" height="24" rx="4"/><text x="1690" y="4929">★ 初中政治教学工作总结范文5篇</text></g>
<g id="r9" class="c6"><rect x="1685" y="4960" width="180" height="24" rx="4"/><text x="1690" y="4976">★ 政治教师教学工作总结怎么写5篇</text></g>
<g id="r10" class="c6"><rect x="1685" y="5007" width="169" height="24" rx="4"/><text x="1690" y="5023">★ 政治教师年度教学工作总结5篇</text></g>

<g id="n1a" class="c1"><rect x="748" y="1213" width="220" height="105.2" rx="4"/><text x="753.5" y="1228.6"><tspan x="753.5">本学期根据教导处安排，本人承担了初一年级</tspan><tspan x="753.5" dy="13.6">四个班和初二年级一个班的政治教学。经过一</tspan><tspan x="753.5" dy="13.6">学期来的教学工作，我自始至终以认真、严谨</tspan><tspan x="753.5" dy="13.6">得治学态度，勤恳、坚持不懈得精神从事教学</tspan><tspan x="753.5" dy="13.6">工作，完成了教学的全部内容，在教学中不断</tspan><tspan x="753.5" dy="13.6">的总结探索，完成了初期的计划目标，达到了</tspan><tspan x="753.5" dy="13.6">初期的计划要求。</tspan></text></g>
<g id="n1b" class="c1"><rect x="748" y="1602" width="220" height="37.2" rx="4"/><text x="753.5" y="1617.6"><tspan x="753.5">根据这一目标的要求，本期主要采取了以下措</tspan><tspan x="753.5" dy="13.6">施和方法来完成本期的计划目标：</tspan></text></g>
<g id="n1b1" class="c1"><rect x="507" y="1342" width="220" height="50.8" rx="4"/><text x="512.5" y="1357.6"><tspan x="512.5">一、加强学生基础知识的训练，对于基本概念</tspan><tspan x="512.5" dy="13.6">要求学生必须掌握，对一些基本理论要求学生</tspan><tspan x="512.5" dy="13.6">理解并能正确的运用。</tspan></text></g>
<g id="n1b2" class="c1"><rect x="507" y="1415" width="220" height="132.4" rx="4"/><text x="512.5" y="1430.6"><tspan x="512.5">二、采取单元考试的方式，强化学生概念的理</tspan><tspan x="512.5" dy="13.6">解掌握，在考试前组织学生复习，对于容易考</tspan><tspan x="512.5" dy="13.6">到的地方进行重点复习，每次都对材料分析进</tspan><tspan x="512.5" dy="13.6">行有针对性复习，这样让学生在考试中树立信</tspan><tspan x="512.5" dy="13.6">心。考试后对后对试卷进行全部批改，并对学</tspan><tspan x="512.5" dy="13.6">生考试情况、试卷等进行分析总结，为评讲试</tspan><tspan x="512.5" dy="13.6">卷时做到有的放矢，在评讲中要求学生都要认</tspan><tspan x="512.5" dy="13.6">真改正，并做好笔记。通过考试、复习、评讲</tspan><tspan x="512.5" dy="13.6">，使学生掌握的知识更加牢固。</tspan></text></g>
<g id="n1b3" class="c1"><rect x="507" y="1571" width="220" height="118.8" rx="4"/><text x="512.5" y="1586.6"><tspan x="512.5">三、在教学中做到了因材施教，调动学生学习</tspan><tspan x="512.5" dy="13.6">的积极性，发挥学生的主观能动性，让学生从</tspan><tspan x="512.5" dy="13.6">被动学习变为主动学习，培养学生学习的能力</tspan><tspan x="512.5" dy="13.6">。针对不同的学生提出不同的要求。在开学初</tspan><tspan x="512.5" dy="13.6">让每一位学生给自己订出目标，对于较差的同</tspan><tspan x="512.5" dy="13.6">学多给鼓励，帮助他们树立信心;对成绩较好</tspan><tspan x="512.5" dy="13.6">的表扬。这样使学生能积极主动配合教学，从</tspan><tspan x="512.5" dy="13.6">而完成教学任务，达到教学目的。</tspan></text></g>
<g id="n1b4" class="c1"><rect x="507" y="1713" width="220" height="322.8" rx="4"/><text x="512.5" y="1728.6"><tspan x="512.5">四、在教学中还有针对性地列举学生身边发生</tspan><tspan x="512.5" dy="13.6">的事例，进行分析、引导，从而使学生树立法</tspan><tspan x="512.5" dy="13.6">制观念和纪律观念，培养学生明辨是非的力，</tspan><tspan x="512.5" dy="13.6">从而使自己养成良好的守法习惯，做一个遵规</tspan><tspan x="512.5" dy="13.6">守纪的好学生，养成良好的行为习惯，从而达</tspan><tspan x="512.5" dy="13.6">到教育的目的。作为科任，能认真制定计划，</tspan><tspan x="512.5" dy="13.6">注重研究中学教学理论，认真备课和教学，积</tspan><tspan x="512.5" dy="13.6">极参加科组活动和备课组活动，上好公开课和</tspan><tspan x="512.5" dy="13.6">平衡课，并能经常听各老师的课，从中吸取教</tspan><tspan x="512.5" dy="13.6">学经验，取长补短，增加自己的教学得业务水</tspan><tspan x="512.5" dy="13.6">平。每节课都以最佳的精神状态站再教坛，以</tspan><tspan x="512.5" dy="13.6">和蔼、轻松、认真的形象去面对学生。通过现</tspan><tspan x="512.5" dy="13.6">实生活中的典范，让学生树立自觉地从德、智</tspan><tspan x="512.5" dy="13.6">、体、美、劳全方面去发展自己得观念，树立</tspan><tspan x="512.5" dy="13.6">崇高远大的理想。作为教初二政治课的老师，</tspan><tspan x="512.5" dy="13.6">明白自己对教材的生疏，故在课前做到认真备</tspan><tspan x="512.5" dy="13.6">课，多方面去搜集相关进行资料。为增加每节</tspan><tspan x="512.5" dy="13.6">课的进行效果，教学质量，我除注重研究教材</tspan><tspan x="512.5" dy="13.6">，把握好基础重点难点外，还采用多媒体教学</tspan><tspan x="512.5" dy="13.6">，如：投影、幻灯、漫画、录音等多样形式.</tspan><tspan x="512.5" dy="13.6">通过培养学生学习政治得兴趣，调动学生学习</tspan><tspan x="512.5" dy="13.6">的积极性、主动性，增加课堂的教学质量，按</tspan><tspan x="512.5" dy="13.6">时完成教学任务。</tspan></text></g>
<g id="n1b4a" class="c1"><rect x="265" y="1787" width="221" height="78" rx="4"/><text x="270.5" y="1802.6"><tspan x="270.5">通过一学期努力，能制定好复习计划，并能认</tspan><tspan x="270.5" dy="13.6">真备好复习课，培养好尖子生，增加中等生，</tspan><tspan x="270.5" dy="13.6">帮助差生.但由与本学期授课时间较短，复习</tspan><tspan x="270.5" dy="13.6">内容较多，复习比较仓促，同时发觉很大一部</tspan><tspan x="270.5" dy="13.6">分学生接受能力较差，学习自觉性不高。</tspan></text></g>
<g id="n1b4b" class="c1"><rect x="265" y="1889" width="221" height="64.4" rx="4"/><text x="270.5" y="1904.6"><tspan x="270.5">一份耕耘，一份收获，付出就会有收获。不过</tspan><tspan x="270.5" dy="13.6">，我也清醒地认识到工作中存在的不足之处，</tspan><tspan x="270.5" dy="13.6">教学工作苦乐相伴，我将一如既往勤勉、务实</tspan><tspan x="270.5" dy="13.6">地工作，争取把工作做得更好。</tspan></text></g>

<g id="n3a" class="c3"><rect x="748" y="2058" width="220" height="118.8" rx="4"/><text x="753.5" y="2073.6"><tspan x="753.5">本学期本人担任高一年级(3、4)两个班级的政</tspan><tspan x="753.5" dy="13.6">治学科教学工作。一学期以来，本人自始至终</tspan><tspan x="753.5" dy="13.6">以认真、严谨的治学态度，勤恳、坚持不懈的</tspan><tspan x="753.5" dy="13.6">精神完成本学期的教学和教研工作。立足现在</tspan><tspan x="753.5" dy="13.6">，放眼未来，为使今后的工作取得更大的进步</tspan><tspan x="753.5" dy="13.6">，现对本学期教学工作作出总结，希望能发扬</tspan><tspan x="753.5" dy="13.6">优点，克服不足，总结检验教训，继往开来，</tspan><tspan x="753.5" dy="13.6">以促进教训工作更上一层楼。</tspan></text></g>
<g id="n3b" class="c3"><rect x="746" y="2260" width="222" height="24" rx="4"/><text x="751.5" y="2276">一、认真组织教学工作，提高教学的有效性。</text></g>
<g id="n3b1" class="c3"><rect x="507" y="2199" width="220" height="146" rx="4"/><text x="512.5" y="2214.6"><tspan x="512.5">由于担任的是基础年级的教学，需要为以后的</tspan><tspan x="512.5" dy="13.6">教学打好基础，在本学期本人认真把课备好，</tspan><tspan x="512.5" dy="13.6">不但备教材备教法而且备学生。根据高一的实</tspan><tspan x="512.5" dy="13.6">际，设计课的类型，拟定采用的教学方法，并</tspan><tspan x="512.5" dy="13.6">对教学过程的程序及时间安排都作了详细的记</tspan><tspan x="512.5" dy="13.6">录，认真写好每一课教案，力争做到每一课都</tspan><tspan x="512.5" dy="13.6">做到"有备而来"，每堂课都在课前做好充分的</tspan><tspan x="512.5" dy="13.6">准备。并根据教学的需要，采用多种的教学方</tspan><tspan x="512.5" dy="13.6">法，提高学生的学习积极性和教学的时效性，</tspan><tspan x="512.5" dy="13.6">并且在课后及时对该课作出总结。</tspan></text></g>
<g id="n3c" class="c3"><rect x="748" y="2422" width="220" height="37.2" rx="4"/><text x="753.5" y="2437.6"><tspan x="753.5">二、在教学措施上，积极采用新的教学方法，</tspan><tspan x="753.5" dy="13.6">增强教学的时效性。</tspan></text></g>
<g id="n3c1" class="c3"><rect x="507" y="2368" width="220" height="146" rx="4"/><text x="512.5" y="2383.6"><tspan x="512.5">本学期本人在教学措施上力图创新，以适应教</tspan><tspan x="512.5" dy="13.6">育教学的需要。本学期在教学上运用多种方式</tspan><tspan x="512.5" dy="13.6">进行教学，以提高学生的上课的积极性和有效</tspan><tspan x="512.5" dy="13.6">性。在课堂上特别注意调动学生的积极性，加</tspan><tspan x="512.5" dy="13.6">强师生交流，充分体现学生的主作用，让学生</tspan><tspan x="512.5" dy="13.6">学得容易，学得轻松，学得愉快;注意精讲精</tspan><tspan x="512.5" dy="13.6">练，在课堂上老师讲得尽量少，学生动口动手</tspan><tspan x="512.5" dy="13.6">动脑尽量多;同时在每一堂课上都充分考虑每</tspan><tspan x="512.5" dy="13.6">一个层次的学生学习需求和学习能力，让各个</tspan><tspan x="512.5" dy="13.6">层次的学生都得到提高。</tspan></text></g>
<g id="n3d" class="c3"><rect x="776" y="2576" width="192" height="24" rx="4"/><text x="782" y="2592">三、虚心学习，提高自己教学基本功。</text></g>
<g id="n3d1" class="c3"><rect x="538" y="2536" width="221" height="105.2" rx="4"/><text x="543.5" y="2551.6"><tspan x="543.5">虚心请教其他老师。在教学上，虚心请教其他</tspan><tspan x="543.5" dy="13.6">老师，有疑必问。在各个章节的学习上都积极</tspan><tspan x="543.5" dy="13.6">征求其他老师的意见，学习他们的方法，同时</tspan><tspan x="543.5" dy="13.6">，多听老师的课，做到边听边讲，学习别人的</tspan><tspan x="543.5" dy="13.6">优点，克服自己的不足，并常常邀请其他老师</tspan><tspan x="543.5" dy="13.6">来听课，征求他们的意见，改进工作，提高自</tspan><tspan x="543.5" dy="13.6">己的教学能力。</tspan></text></g>
<g id="n3e" class="c3"><rect x="818" y="2725" width="150" height="24" rx="4"/><text x="824" y="2741">四、认真做好教学常规工作。</text></g>
<g id="n3e1" class="c3"><rect x="580" y="2664" width="221" height="146" rx="4"/><text x="585.5" y="2679.6"><tspan x="585.5">认真批改作业，布置作业做到精读精练。有针</tspan><tspan x="585.5" dy="13.6">对性，有层次性。同时对学生的作业批改及时</tspan><tspan x="585.5" dy="13.6">、认真，分析并记录学生的作业情况，将他们</tspan><tspan x="585.5" dy="13.6">在作业过程出现的问题作出分类总结，进行透</tspan><tspan x="585.5" dy="13.6">切的评讲，并针对有关情况及时改进教学方法</tspan><tspan x="585.5" dy="13.6">，做到有的放矢。做好课后辅导工作，注意分</tspan><tspan x="585.5" dy="13.6">层教学。在课后，为不同层次的学生进行相应</tspan><tspan x="585.5" dy="13.6">的辅导，以满足不同层次的学生的需求，避免</tspan><tspan x="585.5" dy="13.6">了一刀切的弊端，同时加大了后进生的辅导力</tspan><tspan x="585.5" dy="13.6">度。</tspan></text></g>
<g id="n3f" class="c3"><rect x="765" y="2925" width="203" height="24" rx="4"/><text x="771" y="2941">五、工作中存在的问题和需要改进的方面</text></g>
<g id="n3f1" class="c3"><rect x="527" y="2834" width="221" height="50.8" rx="4"/><text x="532.5" y="2849.6"><tspan x="532.5">1、在探索新的教学模式，尤其是新课程改革</tspan><tspan x="532.5" dy="13.6">后的政治教学模式，还需要在实践中在进行改</tspan><tspan x="532.5" dy="13.6">进，同时注意提高教学的有效性。</tspan></text></g>
<g id="n3f2" class="c3"><rect x="527" y="2907" width="221" height="50.8" rx="4"/><text x="532.5" y="2922.6"><tspan x="532.5">2、在教研工作中，还需要提高教研的水平和</tspan><tspan x="532.5" dy="13.6">方式，尤其是集体备课方面还需要再推进，本</tspan><tspan x="532.5" dy="13.6">学期做的不够好。</tspan></text></g>
<g id="n3f3" class="c3"><rect x="527" y="2981" width="221" height="64.4" rx="4"/><text x="532.5" y="2996.6"><tspan x="532.5">3、难以做到因人而教。对于上课，一部分成</tspan><tspan x="532.5" dy="13.6">绩好的的同学，觉得上课效率不高，对于成绩</tspan><tspan x="532.5" dy="13.6">较差的同学，觉得内容深且多，没有把不同层</tspan><tspan x="532.5" dy="13.6">次能力的学生很好的协调起来。</tspan></text></g>
<g id="n3f3a" class="c3"><rect x="286" y="2981" width="221" height="64.4" rx="4"/><text x="291.5" y="2996.6"><tspan x="291.5">总之，本学期本人自认为还是比较努力工作的</tspan><tspan x="291.5" dy="13.6">，尽管有一些遗憾，但在未来的日子里，只要</tspan><tspan x="291.5" dy="13.6">自己不断总结经验，提高教学水平，相信，有</tspan><tspan x="291.5" dy="13.6">耕耘总会有收获。</tspan></text></g>

<g id="n5a" class="c5"><rect x="748" y="3391" width="220" height="91.6" rx="4"/><text x="753.5" y="3406.6"><tspan x="753.5">本学期，本人担任高二(1)、(2)、(3)、(5)、(9</tspan><tspan x="753.5" dy="13.6">)五个班的政治教学工作，兼高二(5)班的班主</tspan><tspan x="753.5" dy="13.6">任工作，高二政治教学工作总结。教学任务繁</tspan><tspan x="753.5" dy="13.6">重，但我始终勤勤恳恳、兢兢业业、满腔热情</tspan><tspan x="753.5" dy="13.6">地对待教育教学工作，现将本学期的教学工作</tspan><tspan x="753.5" dy="13.6">简单总结如下：</tspan></text></g>
<g id="n5b" class="c5"><rect x="630" y="3250" width="97" height="24" rx="4"/><text x="636" y="3266">一、教学工作方面</text></g>
<g id="n5b1" class="c5"><rect x="391" y="3068" width="221" height="64.4" rx="4"/><text x="396.5" y="3083.6"><tspan x="396.5">1、细致的备好每一节课。在备课中,认真研究</tspan><tspan x="396.5" dy="13.6">教材和学科指导意见，力求准确把握难重点、</tspan><tspan x="396.5" dy="13.6">难点，并注重参阅各种杂志、注意弱化难点强</tspan><tspan x="396.5" dy="13.6">调重点,并不断归纳总结，提高教学水平。</tspan></text></g>
<g id="n5b2" class="c5"><rect x="391" y="3154" width="221" height="78" rx="4"/><text x="396.5" y="3169.6"><tspan x="396.5">2、认真上好每一节课。力求语言准确生动,</tspan><tspan x="396.5" dy="13.6">教法灵活，重点、难点突出。上课时注重学生</tspan><tspan x="396.5" dy="13.6">主动性的发挥,注重综合能力的培养,有意识的</tspan><tspan x="396.5" dy="13.6">培养学生的思维的严谨性及逻辑性,保证每一</tspan><tspan x="396.5" dy="13.6">节课的质量。</tspan></text></g>
<g id="n5b3" class="c5"><rect x="391" y="3255" width="221" height="50.8" rx="4"/><text x="396.5" y="3270.6"><tspan x="396.5">3、认真批改作业，注意听取学生的意见,及时</tspan><tspan x="396.5" dy="13.6">了解学生的学习情况，并有目的的对学生进行</tspan><tspan x="396.5" dy="13.6">辅导。</tspan></text></g>
<g id="n5b4" class="c5"><rect x="391" y="3330" width="221" height="50.8" rx="4"/><text x="396.5" y="3345.6"><tspan x="396.5">4、坚持听课，注意学习组里老师的教学经验,</tspan><tspan x="396.5" dy="13.6">提升自己的教学基本功，努力探索适合自己的</tspan><tspan x="396.5" dy="13.6">教学模式。</tspan></text></g>
<g id="n5b5" class="c5"><rect x="391" y="3403" width="221" height="37.2" rx="4"/><text x="396.5" y="3418.6"><tspan x="396.5">5、认真完成班主任相关工作，做好班级的管</tspan><tspan x="396.5" dy="13.6">理和统筹工作。</tspan></text></g>
<g id="n5c" class="c5"><rect x="524" y="3599" width="203" height="24" rx="4"/><text x="530" y="3615">二、工作中存在的问题和需要改进的方面</text></g>
<g id="n5c1" class="c5"><rect x="286" y="3465" width="221" height="50.8" rx="4"/><text x="291.5" y="3480.6"><tspan x="291.5">1、在探索新的教学模式，尤其是新课程改革</tspan><tspan x="291.5" dy="13.6">后的政治教学模式，还需要在实践中在进行改</tspan><tspan x="291.5" dy="13.6">进，同时注意提高教学的有效性。</tspan></text></g>
<g id="n5c2" class="c5"><rect x="286" y="3538" width="221" height="50.8" rx="4"/><text x="291.5" y="3553.6"><tspan x="291.5">2、在教研工作中，还需要提高教研的水平和</tspan><tspan x="291.5" dy="13.6">方式，尤其是集体备课方面还需要再推进，本</tspan><tspan x="291.5" dy="13.6">学期做的不够好。</tspan></text></g>
<g id="n5c3" class="c5"><rect x="286" y="3612" width="221" height="64.4" rx="4"/><text x="291.5" y="3627.6"><tspan x="291.5">3、难以做到因人而教。对于上课，一部分成</tspan><tspan x="291.5" dy="13.6">绩好的的同学，觉得上课效率不高，对于成绩</tspan><tspan x="291.5" dy="13.6">较差的同学，觉得内容深且多，没有把不同层</tspan><tspan x="291.5" dy="13.6">次能力的学生很好的协调起来。</tspan></text></g>
<g id="n5c4" class="c5"><rect x="286" y="3702" width="221" height="50.8" rx="4"/><text x="291.5" y="3717.6"><tspan x="291.5">4、作为班主任新手，有很多不可控的问题无</tspan><tspan x="291.5" dy="13.6">法及时处理，还需向有经验的班主任请教学习</tspan><tspan x="291.5" dy="13.6">。</tspan></text></g>
<g id="n5c4a" class="c5"><rect x="45" y="3695" width="221" height="64.4" rx="4"/><text x="50.5" y="3710.6"><tspan x="50.5">总之，本学期本人自认为还是比较努力工作的</tspan><tspan x="50.5" dy="13.6">，尽管有一些遗憾，但在未来的日子里，只要</tspan><tspan x="50.5" dy="13.6">自己不断总结经验，提高教学水平，相信有拼</tspan><tspan x="50.5" dy="13.6">耘总会有收获。</tspan></text></g>
</g>
</svg>
